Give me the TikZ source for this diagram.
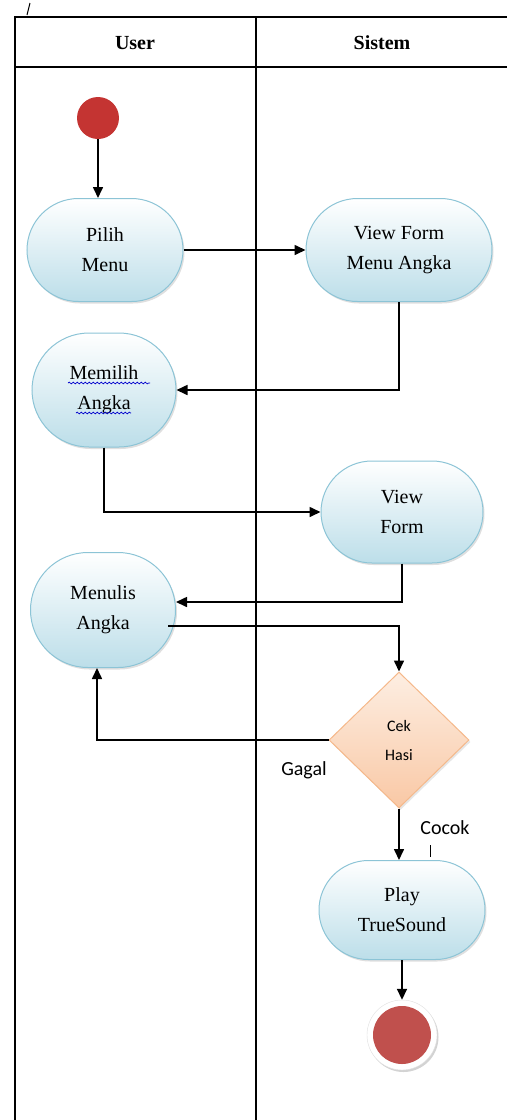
\documentclass[tikz,border=0pt]{standalone}
\usepackage{fontspec}
\setmainfont{Liberation Serif}
\newfontfamily\calib{Carlito}
\usetikzlibrary{arrows.meta,shapes.misc,shapes.geometric,shadows,decorations.pathmorphing}
\definecolor{actline}{RGB}{140,196,214}
\definecolor{actbot}{RGB}{188,222,233}
\definecolor{decline}{RGB}{245,184,138}
\definecolor{dectop}{RGB}{253,238,226}
\definecolor{decbot}{RGB}{249,200,165}
\definecolor{startred}{RGB}{196,52,50}
\definecolor{endred}{RGB}{192,80,77}
\begin{document}
\begin{tikzpicture}[x=1pt,y=-1pt,
  act/.style={rounded rectangle, draw=actline, line width=1pt, top color=white, bottom color=actbot,
    align=center, font=\fontsize{20}{30}\selectfont, inner sep=0pt,
    drop shadow={shadow xshift=1.5pt,shadow yshift=-2pt,opacity=0.25}},
  lane/.style={line width=2pt},
  flow/.style={line width=1.6pt, -{Triangle[length=11pt,width=10pt]}},
  lbl/.style={font=\calib\fontsize{20}{24}\selectfont, inner sep=0pt},
  hdr/.style={font=\bfseries\fontsize{20}{24}\selectfont, inner sep=0pt},
  squiggle/.style={draw=blue!80!black, line width=0.7pt, decorate, decoration={snake, segment length=4pt, amplitude=0.9pt}}]
\useasboundingbox (0,0) rectangle (507,1120);
% swimlanes
\draw[lane] (15,1120) -- (15,17) -- (507,17);
\draw[lane] (15,67) -- (507,67);
\draw[lane] (256,17) -- (256,1120);
\draw[line width=1pt] (27,15) -- (30,3);
\node[hdr] (huser) at (135,43) {User};
\node[hdr] (hsis) at (382,43) {Sistem};
% nodes
\node[circle, minimum size=42pt, inner sep=0pt, fill=startred] (start) at (98,118) {};
\node[act, minimum width=156pt, minimum height=103pt] (pilih) at (105,250) {Pilih\\Menu};
\node[act, minimum width=186pt, minimum height=103pt] (vfm) at (399,250) {View Form\\Menu Angka};
\node[act, minimum width=144pt, minimum height=114pt] (memilih) at (104,390) {Memilih\\Angka};
\node[act, minimum width=162pt, minimum height=102pt] (vf) at (402,512) {View\\Form};
\node[act, minimum width=145pt, minimum height=115pt] (menulis) at (103,610) {Menulis\\Angka};
\node[diamond, draw=decline, line width=1pt, top color=dectop, bottom color=decbot,
  minimum width=140pt, minimum height=136pt, inner sep=0pt, align=center,
  font=\calib\fontsize{16}{29}\selectfont,
  drop shadow={shadow xshift=1.5pt,shadow yshift=-2pt,opacity=0.2}] (cek) at (399,740) {Cek\\Hasi};
\node[act, minimum width=166pt, minimum height=99pt] (play) at (402,910) {Play\\TrueSound};
\node[circle, minimum size=70pt, inner sep=0pt, fill=white, draw=gray!25,
  drop shadow={shadow xshift=1.5pt,shadow yshift=-2pt,opacity=0.35}] (endo) at (402,1035) {};
\node[circle, minimum size=58pt, inner sep=0pt, fill=endred] (endi) at (endo) {};
% spell-check squiggles
\draw[squiggle] (68,383) -- (150,383);
\draw[squiggle] (76,413) -- (131,413);
% labels
\node[lbl] (gagal) at (304,770) {Gagal};
\node[lbl] (cocok) at (445,828) {Cocok};
\coordinate (tickA) at (430,845);
\coordinate (tickB) at (430,857);
\draw[line width=1pt] (tickA) -- (tickB);
% connectors
\draw[flow] (start) -- (start |- pilih.north);
\draw[flow] (pilih.east) -- (pilih.east -| vfm.west);
\draw[flow] (vfm.south) |- (memilih.east);
\draw[flow] (memilih.south) |- (vf.west);
\draw[flow] (vf.south) |- ([yshift=8pt]menulis.east);
\draw[flow] ([yshift=-16pt,xshift=-8pt]menulis.east) -| (cek.north);
\draw[flow] (cek.west) -| ([xshift=-6pt]menulis.south);
\draw[flow] (cek.south) -- (cek.south |- play.north);
\draw[flow] (play.south) -- (endo.north);
\end{tikzpicture}
\end{document}
